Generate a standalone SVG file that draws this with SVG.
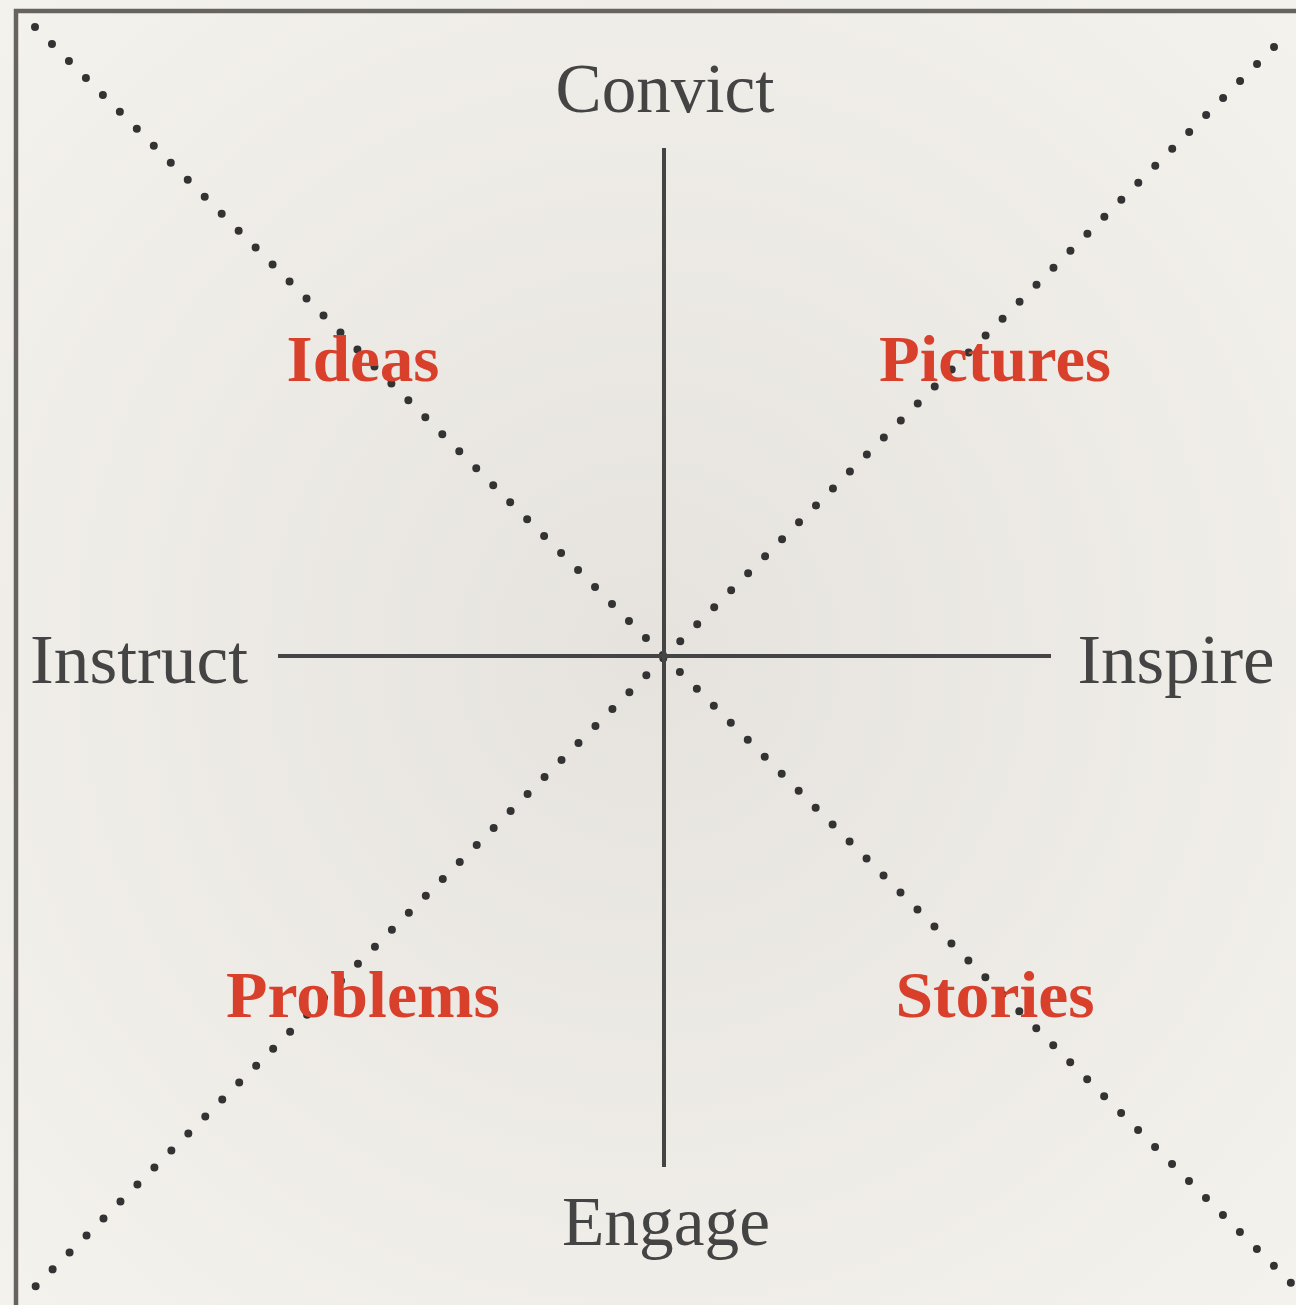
<svg xmlns="http://www.w3.org/2000/svg" width="1296" height="1305" viewBox="0 0 1296 1305">
<defs>
<radialGradient id="bg" cx="0.5" cy="0.5" r="0.7">
<stop offset="0" stop-color="#e6e3de"/>
<stop offset="1" stop-color="#f4f2ed"/>
</radialGradient>
</defs>
<style>
.axis{stroke:#444;stroke-width:4;fill:none}
.dot{stroke:#333;stroke-width:8;stroke-linecap:round;stroke-dasharray:0 24;fill:none}
.lbl{font-family:"Liberation Serif","Times New Roman",serif;font-size:69px;fill:#444;text-anchor:middle}
.red{font-family:"Liberation Serif","Times New Roman",serif;font-size:66px;font-weight:bold;fill:#d8402c;text-anchor:middle}
</style>
<rect width="1296" height="1305" fill="url(#bg)"/>
<rect x="16" y="11" width="1300" height="1310" fill="none" stroke="#67645f" stroke-width="4.5"/>
<g id="connectors">
<path class="dot" d="M35,27 L1291,1283"/>
<path class="dot" d="M1274,47 L35,1287"/>
<line class="axis" x1="664" y1="148" x2="664" y2="1167"/>
<line class="axis" x1="278" y1="656" x2="1051" y2="656"/>
</g>
<g id="convict"><text class="lbl" x="665" y="112" textLength="219" lengthAdjust="spacingAndGlyphs">Convict</text></g>
<g id="instruct"><text class="lbl" x="139" y="683" textLength="218" lengthAdjust="spacingAndGlyphs">Instruct</text></g>
<g id="inspire"><text class="lbl" x="1176" y="683" textLength="197" lengthAdjust="spacingAndGlyphs">Inspire</text></g>
<g id="engage"><text class="lbl" x="666" y="1245" textLength="208" lengthAdjust="spacingAndGlyphs">Engage</text></g>
<g id="ideas"><text class="red" x="363" y="381" textLength="153" lengthAdjust="spacingAndGlyphs">Ideas</text></g>
<g id="pictures"><text class="red" x="995" y="381" textLength="232" lengthAdjust="spacingAndGlyphs">Pictures</text></g>
<g id="problems"><text class="red" x="363" y="1017" textLength="274" lengthAdjust="spacingAndGlyphs">Problems</text></g>
<g id="stories"><text class="red" x="995" y="1017" textLength="199" lengthAdjust="spacingAndGlyphs">Stories</text></g>
</svg>
